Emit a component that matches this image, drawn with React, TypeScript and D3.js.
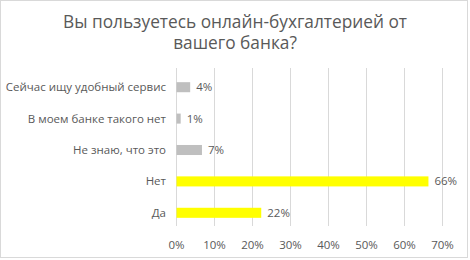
import React from "react";
import * as d3 from "d3";

const categories = [
  "Сейчас ищу удобный сервис",
  "В моем банке такого нет",
  "Не знаю, что это",
  "Нет",
  "Да",
];
const values = [3.6, 1.1, 6.7, 66.3, 22.3];
const barColors = ["#bfbfbf", "#bfbfbf", "#bfbfbf", "#ffff00", "#ffff00"];
const ticks = [0, 10, 20, 30, 40, 50, 60, 70];
const titleLines = ["Вы пользуетесь онлайн-бухгалтерией от", "вашего банка?"];

const W = 470;
const H = 260;

export default function App() {
  const x = d3.scaleLinear().domain([0, 70]).range([176.5, 442.5]);
  const y = d3.scaleBand().domain(categories).range([71.5, 228.5]).paddingInner(0.68).paddingOuter(0.34);
  const font = "'Open Sans', sans-serif";
  const txt = "#595959";
  return (
    <svg width={W} height={H} style={{ position: "absolute", left: 0, top: 0 }}>
      <rect x={0.5} y={0.5} width={W - 3} height={H - 3} fill="#fff" stroke="#d9d9d9" />
      {titleLines.map((t, i) => (
        <text key={i} x={235} y={27.5 + i * 21} textAnchor="middle" fontFamily={font} fontSize={17.3} fill={txt}>
          {t}
        </text>
      ))}
      {ticks.map((t) => (
        <g key={t}>
          <line x1={x(t)} x2={x(t)} y1={68} y2={226} stroke="#d9d9d9" strokeWidth={1} />
          <text x={x(t)} y={249} textAnchor="middle" fontFamily={font} fontSize={11.5} fill={txt}>
            {t}%
          </text>
        </g>
      ))}
      {categories.map((c, i) => {
        const yy = y(c)!;
        const h = y.bandwidth();
        return (
          <g key={c}>
            <rect x={x(0)} y={yy} width={x(values[i]) - x(0)} height={h} fill={barColors[i]} />
            <text x={166} y={yy + h / 2} dy="0.35em" textAnchor="end" fontFamily={font} fontSize={11.5} fill={txt}>
              {c}
            </text>
            <text x={x(values[i]) + 6} y={yy + h / 2} dy="0.35em" fontFamily={font} fontSize={11.5} fill={txt}>
              {Math.round(values[i])}%
            </text>
          </g>
        );
      })}
    </svg>
  );
}
